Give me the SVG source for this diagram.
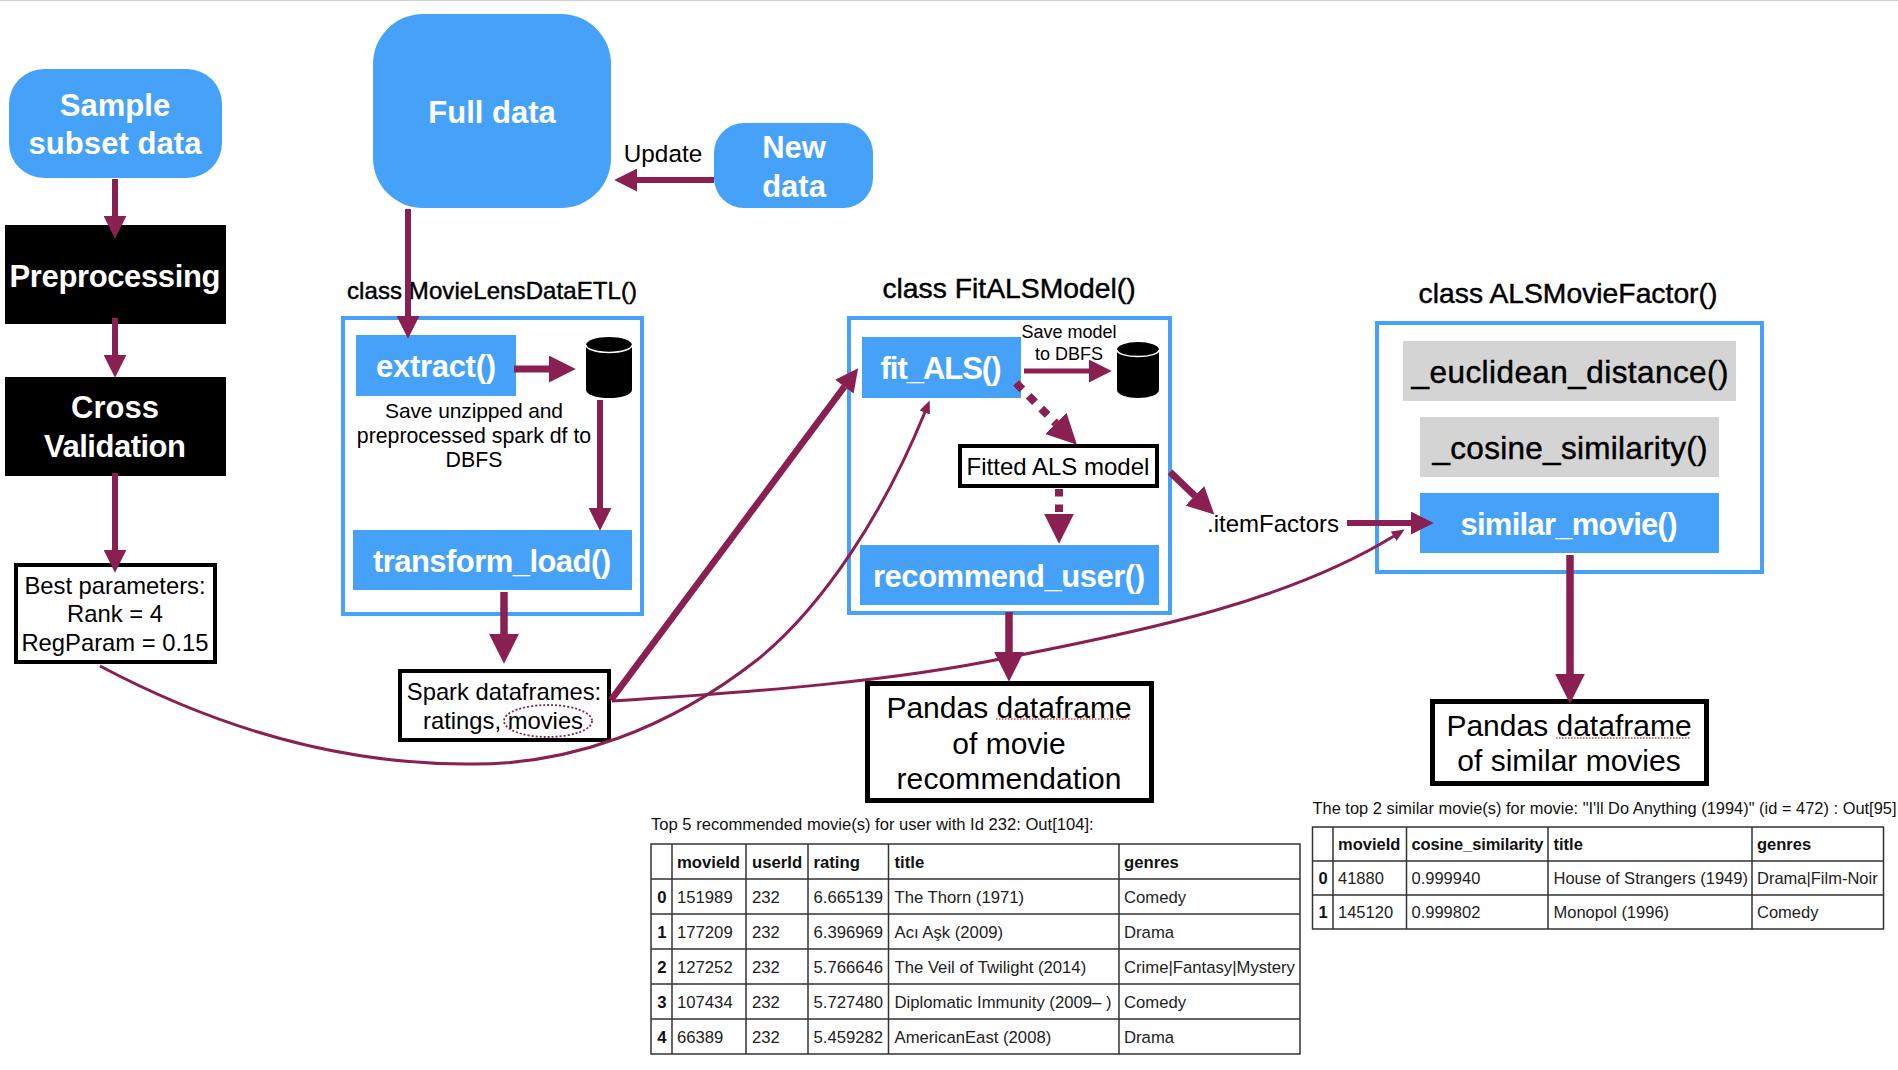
<svg xmlns="http://www.w3.org/2000/svg" width="1898" height="1070" viewBox="0 0 1898 1070">
<style>
text{font-family:"Liberation Sans",Arial,sans-serif;fill:#000;text-anchor:middle}
.fn{fill:#46a2f9}
.blk{fill:#000}
.gry{fill:#d4d4d4}
.frame{fill:none;stroke:#46a2f9;stroke-width:4}
.box{fill:#fff;stroke:#000}
.wh{fill:#fff;font-weight:bold;font-size:31px}
.lab{font-size:23.8px}
.med{stroke:#000;stroke-width:.45}
.ttl{font-size:24px}
.ttl2{font-size:28.300px}
.big{font-size:31.5px}
.pd{font-size:30px}
.cyl{fill:#000}
.cyltop{fill:none;stroke:#fff;stroke-width:1.5}
.c{fill:none;stroke:#8a1f52}
.squig{fill:none;stroke:#d8413a;stroke-width:1.5;stroke-dasharray:1.5 1.5}
.grid{fill:none;stroke:#333;stroke-width:1.5}
.t text{font-size:16.7px;text-anchor:start;fill:#222}
.t .b{font-weight:bold;fill:#111}
.t .i{font-weight:bold;text-anchor:middle;fill:#111}
.t2 text{font-size:16.5px}
.cap{font-size:16.6px;text-anchor:start;fill:#111}
.hd{fill:#8a1f52}
</style>
<defs>
<marker id="h23" markerUnits="userSpaceOnUse" viewBox="0 0 23 23" markerWidth="23" markerHeight="23" refX="0.2" refY="11.5" orient="auto"><path class="hd" d="M0 0L23 11.5L0 23Z"/></marker>
<marker id="h27" markerUnits="userSpaceOnUse" viewBox="0 0 27 27" markerWidth="27" markerHeight="27" refX="0.2" refY="13.5" orient="auto"><path class="hd" d="M0 0L27 13.5L0 27Z"/></marker>
<marker id="h30" markerUnits="userSpaceOnUse" viewBox="0 0 30 30" markerWidth="30" markerHeight="30" refX="0.2" refY="15" orient="auto"><path class="hd" d="M0 0L30 15L0 30Z"/></marker>
<marker id="h12" markerUnits="userSpaceOnUse" viewBox="0 0 13 11" markerWidth="13" markerHeight="11" refX="0.5" refY="5.5" orient="auto"><path class="hd" d="M0 0L13 5.5L0 11Z"/></marker>
</defs>
<rect x="0" y="0" width="1898" height="1.2" fill="#d2d2d2"/>

<g id="sample"><rect class="fn" x="9" y="69" width="213" height="109" rx="35"/><text class="wh" x="115" y="116">Sample</text><text class="wh" x="115" y="154" textLength="173">subset data</text></g>
<g id="preprocessing"><rect class="blk" x="5" y="225" width="221" height="99"/><text class="wh" x="115" y="287" textLength="211">Preprocessing</text></g>
<g id="cross"><rect class="blk" x="5" y="377" width="221" height="99"/><text class="wh" x="115" y="418">Cross</text><text class="wh" x="115" y="457" textLength="142">Validation</text></g>
<g id="best"><rect class="box" stroke-width="4" x="16" y="565" width="199" height="97"/><text class="lab" x="115" y="594">Best parameters:</text><text class="lab" x="115" y="622">Rank = 4</text><text class="lab" x="115" y="651">RegParam = 0.15</text></g>

<g id="full"><rect class="fn" x="373" y="14" width="238" height="194" rx="50"/><text class="wh" x="492" y="123">Full data</text></g>
<g id="newdata"><rect class="fn" x="714" y="123" width="159" height="85" rx="30"/><text class="wh" x="794" y="158">New</text><text class="wh" x="794" y="197">data</text></g>
<text id="update" x="663" y="162" font-size="24.3">Update</text>

<g id="etl"><text class="ttl med" x="492" y="299" textLength="290">class MovieLensDataETL()</text><rect class="frame" x="343" y="318" width="299" height="296"/>
<g id="extract"><rect class="fn" x="356" y="335" width="160" height="61"/><text class="wh" x="436" y="377" textLength="120">extract()</text></g>
<g id="db1"><path class="cyl" d="M586 345V390A23 8 0 0 0 632 390V345A23 8 0 0 0 586 345Z"/><path class="cyltop" d="M586 345A23 7.5 0 0 0 632 345"/></g>
<text x="474" y="418" font-size="21" textLength="178">Save unzipped and</text><text x="474" y="443" font-size="21.3">preprocessed spark df to</text><text x="474" y="467" font-size="21.3">DBFS</text>
<g id="transform"><rect class="fn" x="353" y="530" width="279" height="60"/><text class="wh" x="492" y="572" textLength="238">transform_load()</text></g></g>

<g id="spark"><rect class="box" stroke-width="4" x="400" y="671" width="209" height="69"/><text class="lab" x="504" y="700">Spark dataframes:</text><text class="lab" x="503" y="729">ratings, movies</text><ellipse cx="548" cy="721" rx="44" ry="16" fill="none" stroke="#8a1f52" stroke-width="1.8" stroke-dasharray="2 2"/></g>

<g id="fit"><text class="ttl2 med" x="1009" y="298">class FitALSModel()</text><rect class="frame" x="849" y="318" width="321" height="295"/>
<g id="fitals"><rect class="fn" x="862" y="337" width="159" height="61"/><text class="wh" x="941" y="379" textLength="121">fit_ALS()</text></g>
<text x="1069" y="338" font-size="18">Save model</text><text x="1069" y="360" font-size="18">to DBFS</text>
<g id="db2"><path class="cyl" d="M1117 350V390A21 8 0 0 0 1159 390V350A21 8 0 0 0 1117 350Z"/><path class="cyltop" d="M1117 350A21 6.5 0 0 0 1159 350"/></g>
<g id="fitted"><rect class="box" stroke-width="4" x="960" y="446" width="197" height="40"/><text x="1058" y="475" font-size="24">Fitted ALS model</text></g>
<g id="recommend"><rect class="fn" x="860" y="545" width="299" height="60"/><text class="wh" x="1009" y="587" textLength="272">recommend_user()</text></g></g>

<text id="itemfactors" x="1273" y="532" font-size="24">.itemFactors</text>

<g id="als"><text class="ttl2 med" x="1568" y="303">class ALSMovieFactor()</text><rect class="frame" x="1377" y="323" width="385" height="249"/>
<g id="euclid"><rect class="gry" x="1403" y="341" width="333" height="60"/><text class="big med" x="1570" y="383" textLength="317">_euclidean_distance()</text></g>
<g id="cosine"><rect class="gry" x="1420" y="417" width="299" height="60"/><text class="big med" x="1570" y="459" textLength="275">_cosine_similarity()</text></g>
<g id="similar"><rect class="fn" x="1420" y="493" width="299" height="60"/><text class="wh" x="1569" y="535" textLength="217">similar_movie()</text></g></g>

<g id="pandas1"><rect class="box" stroke-width="5" x="867.500" y="683.500" width="284" height="117"/><text class="pd" x="1009" y="718">Pandas dataframe</text><text class="pd" x="1009" y="754">of movie</text><text class="pd" x="1009" y="789" textLength="225">recommendation</text><path class="squig" d="M996 719H1130"/></g>
<g id="pandas2"><rect class="box" stroke-width="5" x="1432.500" y="701.500" width="274" height="82"/><text class="pd" x="1569" y="736">Pandas dataframe</text><text class="pd" x="1569" y="771">of similar movies</text><path class="squig" d="M1556 738H1690"/></g>

<g id="connectors">
<path class="c" stroke-width="6" marker-end="url(#h23)" d="M115 179V216"/>
<path class="c" stroke-width="6" marker-end="url(#h23)" d="M115 318V355"/>
<path class="c" stroke-width="6" marker-end="url(#h23)" d="M115 473V550"/>
<path class="c" stroke-width="6" marker-end="url(#h23)" d="M408 209V316"/>
<path class="c" stroke-width="6" marker-end="url(#h23)" d="M714 180H637"/>
<path class="c" stroke-width="7" marker-end="url(#h27)" d="M514 369H549"/>
<path class="c" stroke-width="6" marker-end="url(#h23)" d="M600 400V508"/>
<path class="c" stroke-width="7.500" marker-end="url(#h30)" d="M504 592V634"/>
<path class="c" stroke-width="6.500" marker-end="url(#h23)" d="M611 700L844.500 386.500"/>
<path class="c" stroke-width="5" marker-end="url(#h23)" d="M1024 371H1089"/>
<path class="c" stroke-width="8" stroke-dasharray="9 9" marker-end="url(#h30)" d="M1016 383L1056 423.500"/>
<path class="c" stroke-width="8" stroke-dasharray="7.500 8" marker-end="url(#h30)" d="M1059 489V514"/>
<path class="c" stroke-width="7.500" marker-end="url(#h30)" d="M1009 612V652"/>
<path class="c" stroke-width="7" marker-end="url(#h27)" d="M1170 472L1195 496"/>
<path class="c" stroke-width="6" marker-end="url(#h23)" d="M1347 523H1411"/>
<path class="c" stroke-width="7.500" marker-end="url(#h30)" d="M1570 555V674"/>
<path class="c" stroke-width="3" marker-end="url(#h12)" d="M100 666C230 735 350 764 466 764C570 766 670 728 757 660C825 605 885 510 925 412"/>
<path class="c" stroke-width="3" marker-end="url(#h12)" d="M612 701C760 692 900 680 1005 658C1150 630 1290 600 1394 536"/>
</g>

<text class="cap" x="651" y="830">Top 5 recommended movie(s) for user with Id 232: Out[104]:</text>
<g id="table1" class="t">
<path class="grid" d="M651 844H1300V1054H651ZM672 844V1054M746 844V1054M808 844V1054M888.500 844V1054M1119 844V1054M651 879H1300M651 914H1300M651 949H1300M651 984H1300M651 1019H1300"/>
<text class="b" x="677" y="868">movieId</text><text class="b" x="752" y="868">userId</text><text class="b" x="813.500" y="868">rating</text><text class="b" x="894.500" y="868">title</text><text class="b" x="1124" y="868">genres</text>
<text class="i" x="662" y="903">0</text><text x="677" y="903">151989</text><text x="752" y="903">232</text><text x="813.500" y="903">6.665139</text><text x="894.500" y="903">The Thorn (1971)</text><text x="1124" y="903">Comedy</text>
<text class="i" x="662" y="938">1</text><text x="677" y="938">177209</text><text x="752" y="938">232</text><text x="813.500" y="938">6.396969</text><text x="894.500" y="938">Acı Aşk (2009)</text><text x="1124" y="938">Drama</text>
<text class="i" x="662" y="973">2</text><text x="677" y="973">127252</text><text x="752" y="973">232</text><text x="813.500" y="973">5.766646</text><text x="894.500" y="973">The Veil of Twilight (2014)</text><text x="1124" y="973">Crime|Fantasy|Mystery</text>
<text class="i" x="662" y="1008">3</text><text x="677" y="1008">107434</text><text x="752" y="1008">232</text><text x="813.500" y="1008">5.727480</text><text x="894.500" y="1008">Diplomatic Immunity (2009– )</text><text x="1124" y="1008">Comedy</text>
<text class="i" x="662" y="1043">4</text><text x="677" y="1043">66389</text><text x="752" y="1043">232</text><text x="813.500" y="1043">5.459282</text><text x="894.500" y="1043">AmericanEast (2008)</text><text x="1124" y="1043">Drama</text>
</g>

<text class="cap" x="1312.500" y="814" font-size="16.4" style="font-size:16.4px" textLength="584">The top 2 similar movie(s) for movie: "I'll Do Anything (1994)" (id = 472) : Out[95]</text>
<g id="table2" class="t t2">
<path class="grid" d="M1312.500 827H1883.500V929H1312.500ZM1333 827V929M1406.500 827V929M1548 827V929M1752 827V929M1312.500 861H1883.500M1312.500 895H1883.500"/>
<text class="b" x="1338" y="850">movieId</text><text class="b" x="1411.500" y="850" textLength="132">cosine_similarity</text><text class="b" x="1553.500" y="850">title</text><text class="b" x="1757" y="850">genres</text>
<text class="i" x="1323" y="884">0</text><text x="1338" y="884">41880</text><text x="1411.500" y="884">0.999940</text><text x="1553.500" y="884">House of Strangers (1949)</text><text x="1757" y="884">Drama|Film-Noir</text>
<text class="i" x="1323" y="918">1</text><text x="1338" y="918">145120</text><text x="1411.500" y="918">0.999802</text><text x="1553.500" y="918">Monopol (1996)</text><text x="1757" y="918">Comedy</text>
</g>
</svg>
